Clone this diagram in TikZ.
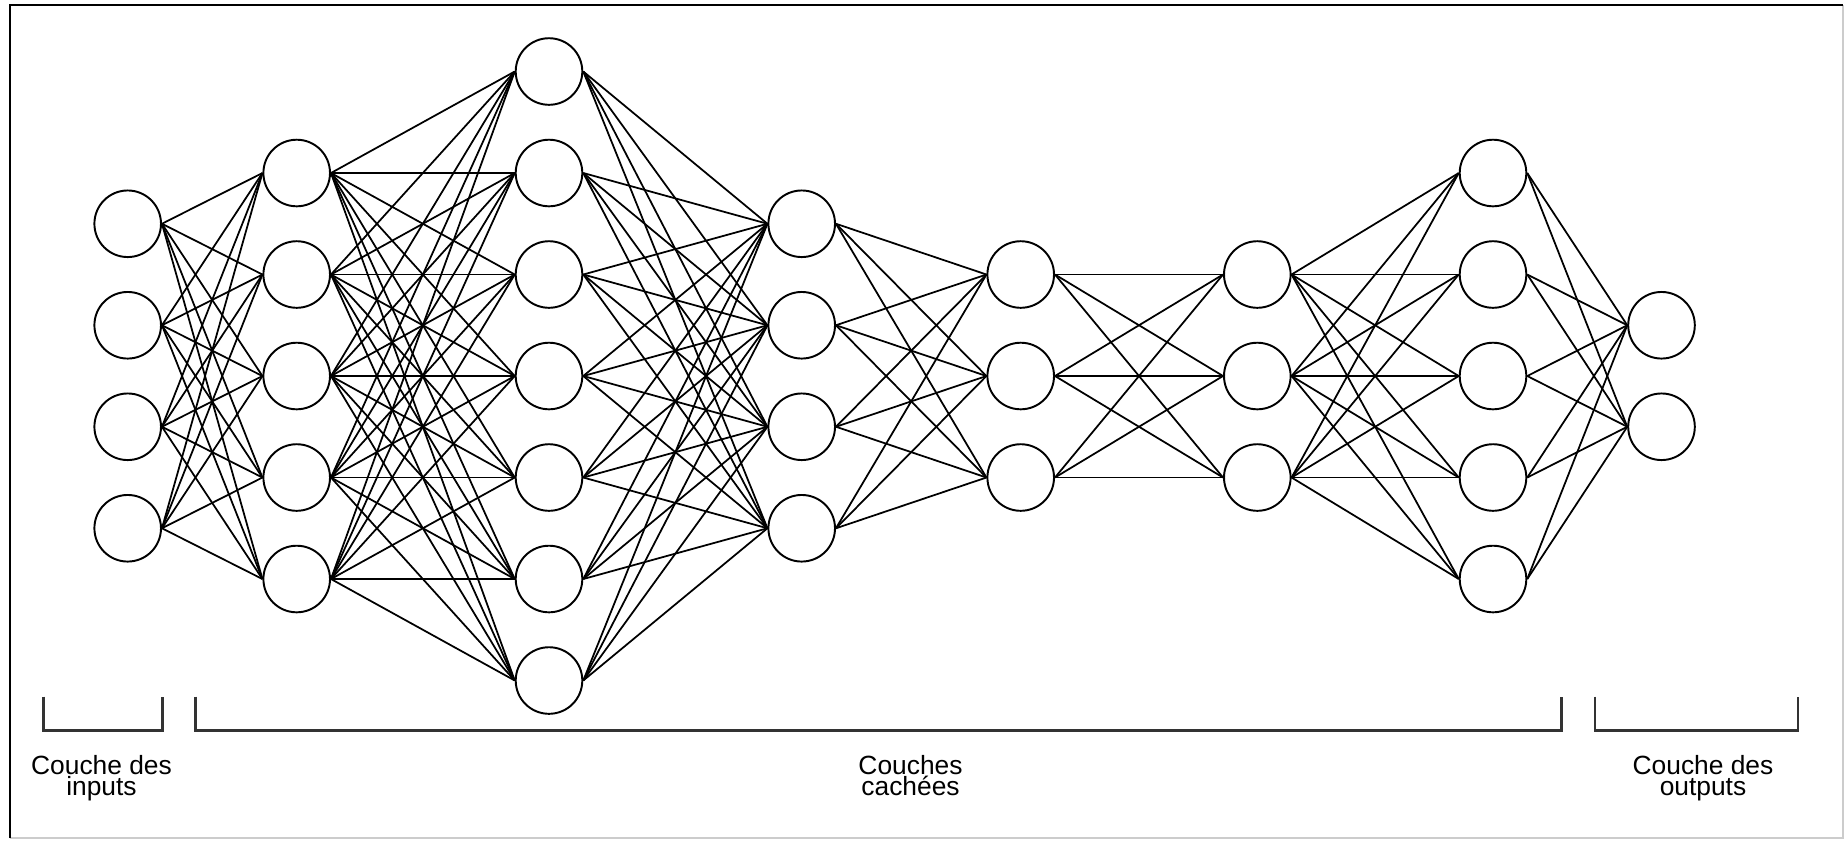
\documentclass[tikz,border=0pt]{standalone}
\usepackage{fontspec}
\setmainfont{Liberation Sans}

\tikzset{
  neuron/.style={circle, draw, minimum size=0.666cm, inner sep=0pt, line width=0.55pt},
  link/.style={line width=0.5pt},
  bracket/.style={line width=0.7pt, color=black!80},
  caption/.style={align=center, anchor=base, font=\fontsize{7.5}{6}\selectfont}
}

\begin{document}
\begin{tikzpicture}
  %%%%% START %%%%%
  \useasboundingbox (0,0) rectangle (18.45,-8.45);

  % cadre
  \draw[line width=0.5pt, color=black!20] (18.43,-0.05) -- (18.43,-8.38) -- (0.1,-8.38);
  \draw[line width=0.6pt] (0.1,-8.38) -- (0.1,-0.05) -- (18.43,-0.05);

  % neurones : x / nombre / couche
  \foreach \x/\n/\l in {1.277/4/1, 2.967/5/2, 5.49/7/3, 8.017/4/4, 10.207/3/5, 12.573/3/6, 14.93/5/7, 16.615/2/8}
    \foreach \i in {1,...,\n}
      \node[neuron] (n\l-\i) at (\x, {-3.76+((\n+1)/2-\i)*1.015}) {};

  % liaisons
  \foreach \a/\na/\b/\nb in {1/4/2/5, 2/5/3/7, 3/7/4/4, 4/4/5/3, 5/3/6/3, 6/3/7/5, 7/5/8/2}
    \foreach \i in {1,...,\na}
      \foreach \j in {1,...,\nb}
        \draw[link] (n\a-\i.east) -- (n\b-\j.west);

  % accolades
  \draw[bracket] (0.433,-6.967) -- (0.433,-7.307) -- (1.627,-7.307) -- (1.627,-6.967);
  \draw[bracket] (1.957,-6.967) -- (1.957,-7.307) -- (15.615,-7.307) -- (15.615,-6.967);
  \draw[bracket] (15.95,-6.967) -- (15.95,-7.307) -- (17.977,-7.307) -- (17.977,-6.967);

  % textes
  \node[caption] (inputs) at (1.015,-7.955) {Couche des\\inputs};
  \node[caption] (cachees) at (9.105,-7.955) {Couches\\cachées};
  \node[caption] (outputs) at (17.03,-7.955) {Couche des\\outputs};
  %%%%% END %%%%%
\end{tikzpicture}
\end{document}
